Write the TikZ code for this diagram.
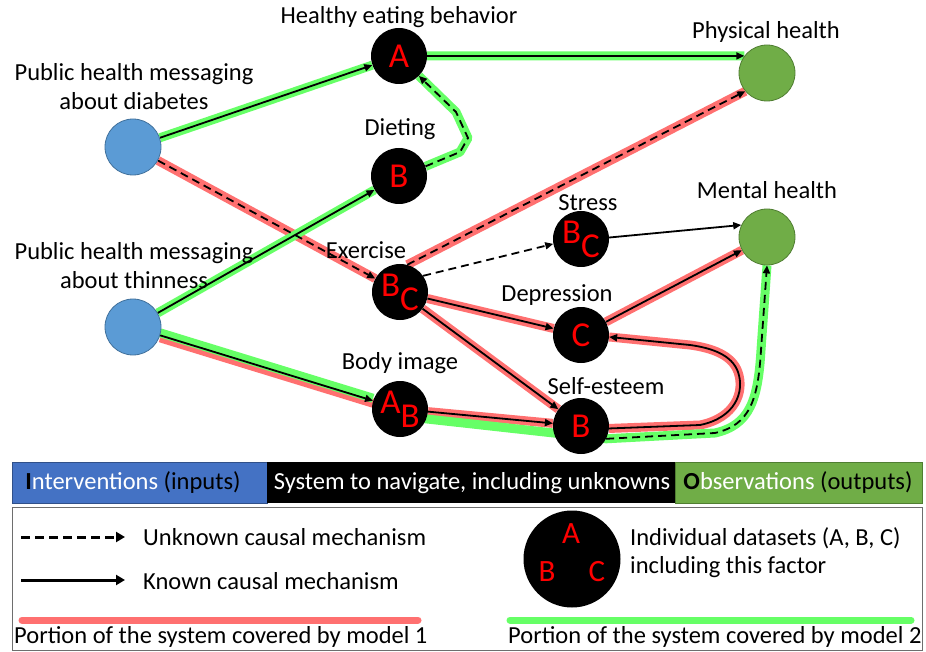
\documentclass[tikz,border=0pt]{standalone}
\usepackage{fontspec}
\setmainfont{Carlito}
\usetikzlibrary{arrows.meta}
\pgfdeclarelayer{back}
\pgfdeclarelayer{bg}
\pgfsetlayers{back,bg,main}
\definecolor{inblue}{RGB}{91,155,213}
\definecolor{inblueb}{RGB}{65,113,156}
\definecolor{outgreen}{RGB}{112,173,71}
\definecolor{outgreenb}{RGB}{80,126,50}
\definecolor{bandblue}{RGB}{68,114,196}
\definecolor{hlred}{RGB}{255,112,112}
\definecolor{hlgreen}{RGB}{102,255,102}
\definecolor{boxgray}{RGB}{110,110,110}
\begin{document}
\begin{tikzpicture}[x=1pt,y=-1pt,
  fac/.style={circle,fill=black,minimum size=56pt,inner sep=0pt,text=red,font=\fontsize{35}{35}\selectfont},
  inp/.style={circle,fill=inblue,draw=inblueb,line width=0.8pt,minimum size=56pt,inner sep=0pt},
  outp/.style={circle,fill=outgreen,draw=outgreenb,line width=0.8pt,minimum size=56pt,inner sep=0pt},
  lbl/.style={font=\fontsize{24.5}{29}\selectfont,align=center,inner sep=0pt},
  arr/.style={draw=black,line width=1.8pt,-{Triangle[length=8pt,width=7pt]}},
  darr/.style={arr,dash pattern=on 8pt off 5pt},
  rhl/.style={draw=hlred,line width=9pt},
  ghl/.style={draw=hlgreen,line width=9pt},
  bandtxt/.style={font=\fontsize{24.5}{29}\selectfont,inner sep=0pt},
  legtxt/.style={font=\fontsize{24.5}{29}\selectfont,inner sep=0pt,anchor=west}
]
\useasboundingbox (0,0) rectangle (926,652);
\begin{pgfonlayer}{back}
\fill[white] (0,0) rectangle (926,652);
\end{pgfonlayer}

% factor nodes
\node[inp] (pd) at (133,147) {};
\node[inp] (pt) at (133,327) {};
\node[fac] (he) at (399,56) {A};
\node[fac] (di) at (399,176) {B};
\node[fac] (ex) at (400,292) {B\raisebox{-14pt}{C}};
\node[fac] (bi) at (400,409) {A\raisebox{-14pt}{B}};
\node[fac] (st) at (581,239) {B\raisebox{-14pt}{C}};
\node[fac] (dp) at (581,335) {C};
\node[fac] (se) at (581,426) {B};
\node[outp] (ph) at (767,73) {};
\node[outp] (mh) at (767,237) {};

% labels
\node[lbl] (lpd) at (134,87) {Public health messaging\\about diabetes};
\node[lbl] (lpt) at (134,266) {Public health messaging\\about thinness};
\node[lbl] (lhe) at (399,17) {Healthy eating behavior};
\node[lbl] (lph) at (766,32) {Physical health};
\node[lbl] (ldi) at (400,129) {Dieting};
\node[lbl] (lst) at (588,203) {Stress};
\node[lbl] (lmh) at (767,190) {Mental health};
\node[lbl] (lex) at (366,250) {Exercise};
\node[lbl] (ldp) at (557,295) {Depression};
\node[lbl] (lbi) at (400,363) {Body image};
\node[lbl] (lse) at (606,386) {Self-esteem};

% bend coordinates
\coordinate (d1) at (460,152);
\coordinate (d2) at (468,138);
\coordinate (d3) at (456,112);
\coordinate (s1) at (700,425);
\coordinate (s2) at (738,372);
\coordinate (s3) at (690,345);
\coordinate (m1) at (715,433);
\coordinate (m2) at (761,350);
\coordinate (g0) at (400,416);

\begin{pgfonlayer}{bg}
  % model 1 highlights (red)
  \draw[rhl] (pd) -- (ex);
  \draw[rhl] (ex.75) -- (ph.220);
  \draw[rhl,transform canvas={yshift=-2.5pt}] (pt) -- (bi);
  \draw[rhl] (bi) -- (se);
  \draw[rhl] (ex) -- (dp);
  \draw[rhl] (ex) -- (se);
  \draw[rhl] (dp) -- (mh);
  \draw[rhl,line join=round] (se.-5) -- (s1) .. controls (735,418) and (745,392) .. (s2) .. controls (732,355) and (712,348) .. (s3) -- (dp.-4);
  % model 2 highlights (green)
  \draw[ghl] (pd) -- (he);
  \draw[ghl] (he.east) -- (ph.143);
  \draw[ghl,line join=round] (di.20) -- (d1) -- (d2) -- (d3) -- (he.-45);
  \draw[ghl] (pt) -- (di);
  \draw[ghl,transform canvas={yshift=2.5pt}] (pt) -- (bi);
  \draw[ghl,line join=round] (g0) -- (se.-27) -- (m1) .. controls (750,425) and (758,400) .. (m2) -- (mh.south);
  % edges
  \draw[arr] (pd) -- (he);
  \draw[arr] (he.east) -- (ph.143);
  \draw[darr] (di.20) -- (d1) -- (d2) -- (d3) -- (he.-45);
  \draw[darr] (pd) -- (ex);
  \draw[arr] (pt) -- (di);
  \draw[arr] (pt) -- (bi);
  \draw[darr] (ex.75) -- (ph.220);
  \draw[darr] (ex.35) -- (st.190);
  \draw[arr] (st.3) -- (mh.155);
  \draw[arr] (ex) -- (dp);
  \draw[arr] (ex) -- (se);
  \draw[arr] (dp) -- (mh);
  \draw[arr] (bi) -- (se);
  \draw[arr] (se.-5) -- (s1) .. controls (735,418) and (745,392) .. (s2) .. controls (732,355) and (712,348) .. (s3) -- (dp.-4);
  \draw[darr] (se.-27) -- (m1) .. controls (750,425) and (758,400) .. (m2) -- (mh.south);
\end{pgfonlayer}

% band
\node[fill=bandblue,draw=bandblue!70!black,line width=0.6pt,minimum width=255pt,minimum height=41pt,anchor=north west,inner sep=0pt] (bblue) at (12,462) {};
\node[fill=black,minimum width=408pt,minimum height=41pt,anchor=north west,inner sep=0pt] (bblack) at (267,462) {};
\node[fill=outgreen,draw=outgreenb,line width=0.6pt,minimum width=247pt,minimum height=41pt,anchor=north west,inner sep=0pt] (bgreen) at (675,462) {};
\node[bandtxt] (t1) at (133,483) {\color{black}\textbf{I}\color{white}nterventions \color{black}(inputs)};
\node[bandtxt,text=white] (t2) at (472,483) {System to navigate, including unknowns};
\node[bandtxt] (t3) at (798,483) {\color{black}\textbf{O}\color{white}bservations \color{black}(outputs)};

% legend
\node[draw=boxgray,line width=1pt,minimum width=910pt,minimum height=143pt,anchor=north west,inner sep=0pt] (legbox) at (12,507) {};
\coordinate (lu1) at (21,537);
\coordinate (lu2) at (125,537);
\coordinate (lk1) at (21,580);
\coordinate (lk2) at (125,580);
\draw[line width=3pt,dash pattern=on 9pt off 5pt,-{Triangle[length=9pt,width=10pt]}] (lu1) -- (lu2);
\draw[line width=3pt,-{Triangle[length=9pt,width=10pt]}] (lk1) -- (lk2);
\node[legtxt] (lt1) at (143,537) {Unknown causal mechanism};
\node[legtxt] (lt2) at (143,581) {Known causal mechanism};
\coordinate (lr1) at (22,620);
\coordinate (lr2) at (418,620);
\coordinate (lg1) at (510,620);
\coordinate (lg2) at (911,620);
\draw[draw=hlred,line width=7pt,line cap=round] (lr1) -- (lr2);
\draw[draw=hlgreen,line width=7pt,line cap=round] (lg1) -- (lg2);
\node[legtxt] (lt3) at (14,637) {Portion of the system covered by model 1};
\node[legtxt] (lt4) at (508,637) {Portion of the system covered by model 2};
\node[circle,fill=black,minimum size=97pt,inner sep=0pt] (legc) at (572,559) {};
\node[text=red,font=\fontsize{31}{31}\selectfont,inner sep=0pt] (lA) at (571,534) {A};
\node[text=red,font=\fontsize{31}{31}\selectfont,inner sep=0pt] (lB) at (547,572) {B};
\node[text=red,font=\fontsize{31}{31}\selectfont,inner sep=0pt] (lC) at (597,572) {C};
\node[legtxt] (lt5) at (630,538) {Individual datasets (A, B, C)};
\node[legtxt] (lt6) at (630,567) {including this factor};
\end{tikzpicture}
\end{document}
